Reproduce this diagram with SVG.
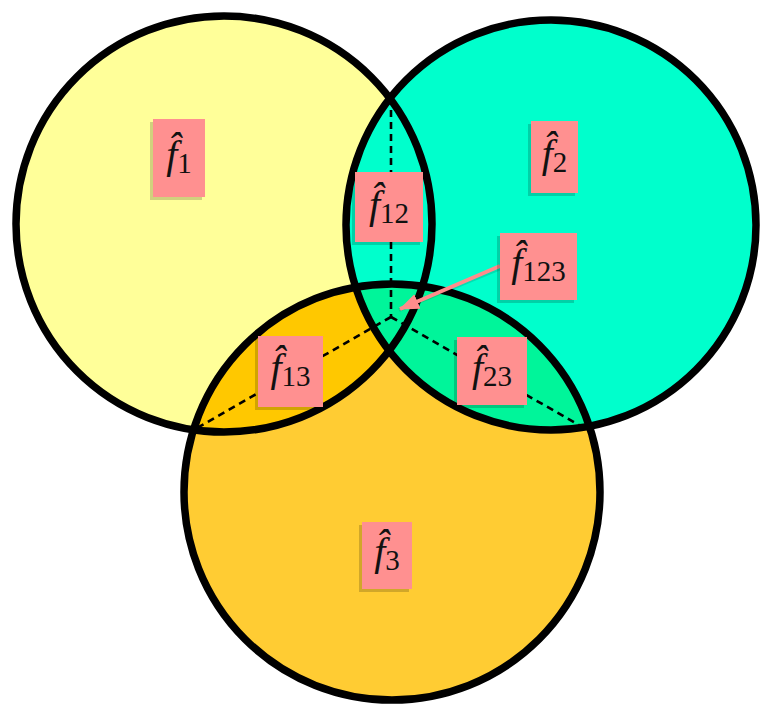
<svg xmlns="http://www.w3.org/2000/svg" width="760" height="705" viewBox="0 0 760 705">
<style>
.ring{fill:none;stroke:#000;stroke-width:7.5}
.dash{fill:none;stroke:#000;stroke-width:2.6;stroke-dasharray:7 5}
.box{fill:#FF9090}
.sh{fill:#000;opacity:0.18}
.lbl{font-family:"Liberation Serif","DejaVu Serif",serif;fill:#111;text-anchor:middle}
.f{font-style:italic;font-size:40px}
.sub{font-size:29px}
</style>
<defs>
<clipPath id="clip1"><circle cx="224" cy="224" r="208"/></clipPath>
<clipPath id="clip2"><circle cx="551" cy="225" r="205"/></clipPath>
<marker id="ah" viewBox="0 0 20 16" refX="19" refY="8" markerWidth="20" markerHeight="16" markerUnits="userSpaceOnUse" orient="auto"><path d="M0,0 L20,8 L0,16 Z" fill="#FF8C8C"/></marker>
</defs>
<rect width="760" height="705" fill="#fff"/>
<g id="circle1"><circle cx="224" cy="224" r="208" fill="#FFFF99"/></g>
<g id="circle2"><circle cx="551" cy="225" r="205" fill="#00FFCC"/></g>
<g id="circle3"><circle cx="392" cy="492" r="208" fill="#FFCC33"/>
<circle cx="392" cy="492" r="208" fill="#FFC800" clip-path="url(#clip1)"/>
<circle cx="392" cy="492" r="208" fill="#00F59A" clip-path="url(#clip2)"/></g>
<g id="outlines">
<circle class="ring" cx="224" cy="224" r="208"/>
<circle class="ring" cx="551" cy="225" r="205"/>
<circle class="ring" cx="392" cy="492" r="208"/>
</g>
<g id="connectors">
<line class="dash" x1="391" y1="98" x2="391" y2="317"/>
<line class="dash" x1="391" y1="317" x2="197" y2="428"/>
<line class="dash" x1="391" y1="317" x2="584" y2="428"/>
<line x1="501" y1="268" x2="399" y2="310" stroke="#000" stroke-opacity="0.12" stroke-width="4"/>
<line x1="500" y1="266" x2="400" y2="309" stroke="#FF8C8C" stroke-width="4" marker-end="url(#ah)"/>
</g>
<g id="f1"><rect class="sh" x="150" y="122" width="52" height="78"/><rect class="box" x="153" y="119" width="52" height="78"/>
<text class="lbl" x="179" y="168"><tspan class="f">f&#x302;</tspan><tspan class="sub" dy="5">1</tspan></text></g>
<g id="f2"><rect class="sh" x="528" y="124" width="47" height="72"/><rect class="box" x="531" y="121" width="47" height="72"/>
<text class="lbl" x="554.5" y="167"><tspan class="f">f&#x302;</tspan><tspan class="sub" dy="5">2</tspan></text></g>
<g id="f12"><rect class="sh" x="352" y="175" width="68" height="70"/><rect class="box" x="355" y="172" width="68" height="70"/>
<text class="lbl" x="389" y="218"><tspan class="f">f&#x302;</tspan><tspan class="sub" dy="5">12</tspan></text></g>
<g id="f123"><rect class="sh" x="497" y="236" width="77" height="67"/><rect class="box" x="500" y="233" width="77" height="67"/>
<text class="lbl" x="538.5" y="276"><tspan class="f">f&#x302;</tspan><tspan class="sub" dy="5">123</tspan></text></g>
<g id="f13"><rect class="sh" x="255" y="339" width="65" height="71"/><rect class="box" x="258" y="336" width="65" height="71"/>
<text class="lbl" x="290.5" y="381"><tspan class="f">f&#x302;</tspan><tspan class="sub" dy="5">13</tspan></text></g>
<g id="f23"><rect class="sh" x="454" y="340" width="70" height="68"/><rect class="box" x="457" y="337" width="70" height="68"/>
<text class="lbl" x="492" y="381"><tspan class="f">f&#x302;</tspan><tspan class="sub" dy="5">23</tspan></text></g>
<g id="f3"><rect class="sh" x="359" y="525" width="50" height="67"/><rect class="box" x="362" y="522" width="50" height="67"/>
<text class="lbl" x="387" y="565"><tspan class="f">f&#x302;</tspan><tspan class="sub" dy="5">3</tspan></text></g>
</svg>
